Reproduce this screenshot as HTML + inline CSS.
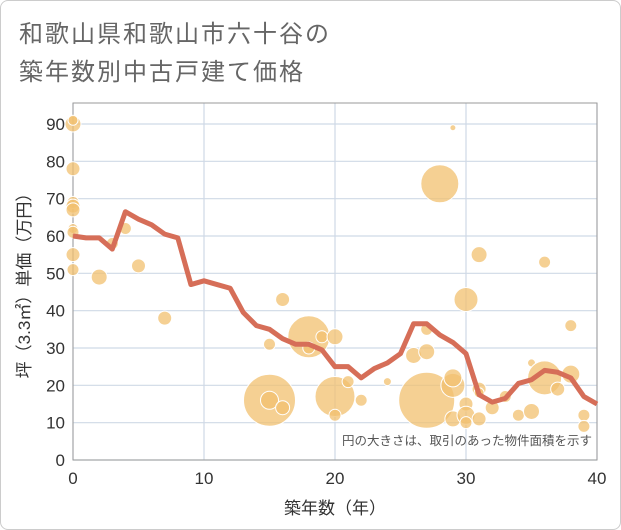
<!DOCTYPE html>
<html><head><meta charset="utf-8"><style>
body{margin:0;background:#fff;font-family:"Liberation Sans","Noto Sans CJK JP",sans-serif;}
#card{position:absolute;left:0;top:0;width:619px;height:528px;border:1px solid #ccc;border-radius:8px;background:#fff;}
.title{position:absolute;left:18px;font-size:24px;color:#666;letter-spacing:2px;white-space:nowrap;}
</style></head><body>
<div id="card">
<div class="title" style="top:13px">和歌山県和歌山市六十谷の</div>
<div class="title" style="top:51px">築年数別中古戸建て価格</div>
</div>
<svg id="chart" width="621" height="530" style="position:absolute;left:0;top:0"></svg>
<script>
const lineAges=[0,1,2,3,4,5,6,7,8,9,10,11,12,13,14,15,16,17,18,19,20,21,22,23,24,25,26,27,28,29,30,31,32,33,34,35,36,37,38,39,40];
const lineValues=[60,59.5,59.5,56.5,66.5,64.5,63,60.5,59.5,47,48,47,46,39.5,36,35,32.5,31,31,29.5,25,25,22,24.5,26,28.5,36.5,36.5,33.5,31.5,28.5,17.5,15.5,16.5,20.5,21.5,24,23.5,22,17,15];
const bubbleAges=[0,0,0,0,0,0,0,0,0,0,2,3,4,5,7,15,16,15,15,16,18,18,19,20,20,20,21,22,24,26,27,27,27,28,29,29,29,29,30,30,30,30,31,31,31,31,32,33,34,35,35,36,36,37,38,38,39,39];
const bubbleValues=[90,91,78,69,68,67,62,61,55,51,49,58,62,52,38,31,43,16,16,14,33,30,33,33,17,12,21,16,21,28,16,29,35,74,89,20,22,11,43,15,12,10,55,11,19,18,14,17,12,13,26,53,22,19,36,23,12,9];
const bubbleAreas=[8,5,7,6,7,7,5,6,7,6,8,6,6,7,7,6,7,26,9,7,21,6,6,8,20,6,6,6,4,8,28,8,6,19,3,12,9,8,12,7,9,6,8,7,7,5,7,6,6,8,4,6,17,7,6,9,6,6];
const xTicks=[0,10,20,30,40];
const yTicks=[0,10,20,30,40,50,60,70,80,90];
const L=73,R=597,T=103,B=460;
const xs=v=>L+(v/40)*(R-L);
const ys=v=>B-(v/90)*(B-124);
const svg=document.getElementById('chart');
const NS='http://www.w3.org/2000/svg';
function mk(t,a){const e=document.createElementNS(NS,t);for(const k in a)e.setAttribute(k,a[k]);svg.appendChild(e);return e;}
yTicks.forEach(v=>{const g=mk('line',{x1:L,x2:R,y1:ys(v),y2:ys(v),stroke:'#cfd9e6','stroke-width':1.2});


const t=mk('text',{x:L-8,y:ys(v)+6,'text-anchor':'end','font-size':17,fill:'#333'});t.textContent=v;

});
xTicks.forEach(v=>{const g=mk('line',{x1:xs(v),x2:xs(v),y1:T,y2:B,stroke:'#cfd9e6','stroke-width':1.2});


const t=mk('text',{x:xs(v),y:B+24,'text-anchor':'middle','font-size':17,fill:'#333'});t.textContent=v;

});
const frame=mk('rect',{x:L,y:T,width:R-L,height:B-T,fill:'none',stroke:'#999','stroke-width':1});


bubbleAges.forEach((a,i)=>{const c=mk('circle',{cx:xs(a),cy:ys(bubbleValues[i]),r:bubbleAreas[i],fill:'#f2c06f','fill-opacity':0.75,stroke:'#fff','stroke-width':1});

});
const p=mk('polyline',{points:lineAges.map((a,i)=>xs(a)+','+ys(lineValues[i])).join(' '),fill:'none',stroke:'#d66e58','stroke-width':5,'stroke-linejoin':'round'});


const note=mk('text',{x:592,y:445,'text-anchor':'end','font-size':12.5,fill:'#555'});note.textContent='円の大きさは、取引のあった物件面積を示す';


const xt=mk('text',{x:(L+R)/2,y:514,'text-anchor':'middle','font-size':17,fill:'#333'});xt.textContent='築年数（年）';


const yt=mk('text',{x:0,y:0,'text-anchor':'middle','font-size':17,fill:'#333',transform:'translate(30,'+((T+B)/2)+') rotate(-90)'});yt.textContent='坪（3.3㎡）単価（万円）';


</script>
</body></html>
